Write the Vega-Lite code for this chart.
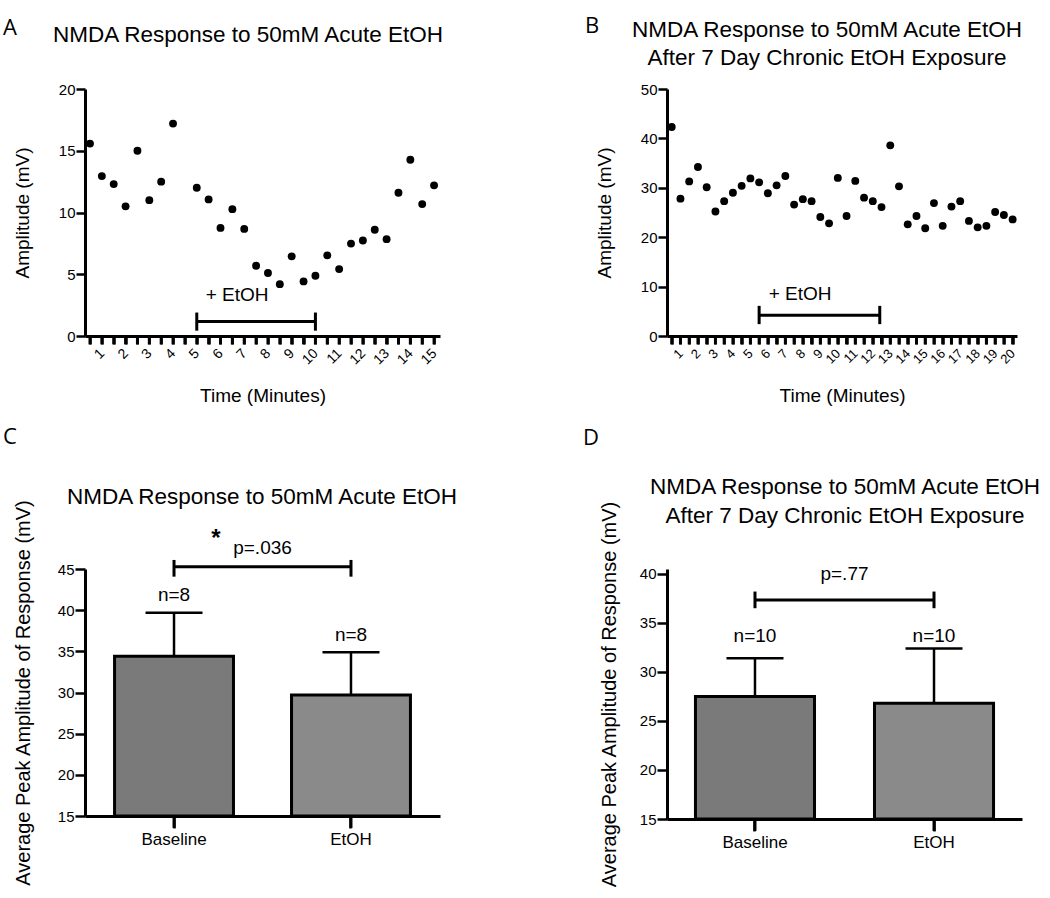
{
  "$schema": "https://vega.github.io/schema/vega-lite/v6.json",
  "autosize": {"type": "none"},
  "padding": {"left": 85, "top": 89, "right": 965, "bottom": 809},
  "background": "white",
  "datasets": {
    "a": [
      {"t": 0.5, "amp": 15.58}, {"t": 1.0, "amp": 12.95}, {"t": 1.5, "amp": 12.3}, {"t": 2.0, "amp": 10.5},
      {"t": 2.5, "amp": 15.0}, {"t": 3.0, "amp": 11.0}, {"t": 3.5, "amp": 12.5}, {"t": 4.0, "amp": 17.2},
      {"t": 5.0, "amp": 12.0}, {"t": 5.5, "amp": 11.06}, {"t": 6.0, "amp": 8.75}, {"t": 6.5, "amp": 10.27},
      {"t": 7.0, "amp": 8.67}, {"t": 7.5, "amp": 5.69}, {"t": 8.0, "amp": 5.1}, {"t": 8.5, "amp": 4.2},
      {"t": 9.0, "amp": 6.45}, {"t": 9.5, "amp": 4.42}, {"t": 10.0, "amp": 4.88}, {"t": 10.5, "amp": 6.53},
      {"t": 11.0, "amp": 5.42}, {"t": 11.5, "amp": 7.48}, {"t": 12.0, "amp": 7.73}, {"t": 12.5, "amp": 8.6},
      {"t": 13.0, "amp": 7.84}, {"t": 13.5, "amp": 11.6}, {"t": 14.0, "amp": 14.27}, {"t": 14.5, "amp": 10.68},
      {"t": 15.0, "amp": 12.2}
    ],
    "ticksA": [
      {"t": 0.5}, {"t": 1}, {"t": 1.5}, {"t": 2}, {"t": 2.5}, {"t": 3}, {"t": 3.5}, {"t": 4}, {"t": 4.5}, {"t": 5},
      {"t": 5.5}, {"t": 6}, {"t": 6.5}, {"t": 7}, {"t": 7.5}, {"t": 8}, {"t": 8.5}, {"t": 9}, {"t": 9.5}, {"t": 10},
      {"t": 10.5}, {"t": 11}, {"t": 11.5}, {"t": 12}, {"t": 12.5}, {"t": 13}, {"t": 13.5}, {"t": 14}, {"t": 14.5}, {"t": 15}
    ],
    "b": [
      {"t": 0.5, "amp": 42.3}, {"t": 1.0, "amp": 27.8}, {"t": 1.5, "amp": 31.3}, {"t": 2.0, "amp": 34.2},
      {"t": 2.5, "amp": 30.1}, {"t": 3.0, "amp": 25.2}, {"t": 3.5, "amp": 27.3}, {"t": 4.0, "amp": 29.0},
      {"t": 4.5, "amp": 30.4}, {"t": 5.0, "amp": 31.9}, {"t": 5.5, "amp": 31.1}, {"t": 6.0, "amp": 28.9},
      {"t": 6.5, "amp": 30.5}, {"t": 7.0, "amp": 32.4}, {"t": 7.5, "amp": 26.6}, {"t": 8.0, "amp": 27.7},
      {"t": 8.5, "amp": 27.3}, {"t": 9.0, "amp": 24.1}, {"t": 9.5, "amp": 22.8}, {"t": 10.0, "amp": 32.0},
      {"t": 10.5, "amp": 24.3}, {"t": 11.0, "amp": 31.4}, {"t": 11.5, "amp": 28.0}, {"t": 12.0, "amp": 27.3},
      {"t": 12.5, "amp": 26.1}, {"t": 13.0, "amp": 38.6}, {"t": 13.5, "amp": 30.3}, {"t": 14.0, "amp": 22.6},
      {"t": 14.5, "amp": 24.3}, {"t": 15.0, "amp": 21.8}, {"t": 15.5, "amp": 26.9}, {"t": 16.0, "amp": 22.3},
      {"t": 16.5, "amp": 26.2}, {"t": 17.0, "amp": 27.3}, {"t": 17.5, "amp": 23.3}, {"t": 18.0, "amp": 22.0},
      {"t": 18.5, "amp": 22.3}, {"t": 19.0, "amp": 25.1}, {"t": 19.5, "amp": 24.5}, {"t": 20.0, "amp": 23.6}
    ],
    "ticksB": [
      {"t": 0.5}, {"t": 1}, {"t": 1.5}, {"t": 2}, {"t": 2.5}, {"t": 3}, {"t": 3.5}, {"t": 4}, {"t": 4.5}, {"t": 5},
      {"t": 5.5}, {"t": 6}, {"t": 6.5}, {"t": 7}, {"t": 7.5}, {"t": 8}, {"t": 8.5}, {"t": 9}, {"t": 9.5}, {"t": 10},
      {"t": 10.5}, {"t": 11}, {"t": 11.5}, {"t": 12}, {"t": 12.5}, {"t": 13}, {"t": 13.5}, {"t": 14}, {"t": 14.5}, {"t": 15},
      {"t": 15.5}, {"t": 16}, {"t": 16.5}, {"t": 17}, {"t": 17.5}, {"t": 18}, {"t": 18.5}, {"t": 19}, {"t": 19.5}, {"t": 20}
    ],
    "c": [
      {"group": "Baseline", "mean": 34.4, "upper": 39.7, "nlabel": "n=8"},
      {"group": "EtOH", "mean": 29.7, "upper": 34.9, "nlabel": "n=8"}
    ],
    "d": [
      {"group": "Baseline", "mean": 27.5, "upper": 31.4, "nlabel": "n=10"},
      {"group": "EtOH", "mean": 26.8, "upper": 32.4, "nlabel": "n=10"}
    ]
  },
  "concat": [
    {
      "width": 355,
      "height": 247,
      "encoding": {
        "x": {"type": "quantitative", "scale": {"domain": [0.29, 15.25], "nice": false, "zero": false}},
        "y": {"type": "quantitative", "scale": {"domain": [0, 20], "nice": false, "zero": false}}
      },
      "layer": [
        {
          "data": {"name": "ticksA"},
          "mark": {"type": "rule", "strokeWidth": 3, "color": "black"},
          "encoding": {"x": {"field": "t", "type": "quantitative"}, "y": {"datum": 0}, "y2": {"datum": -0.68}}
        },
        {
          "data": {"name": "a"},
          "mark": {"type": "circle", "size": 62, "color": "black", "opacity": 1},
          "encoding": {
            "x": {"field": "t", "type": "quantitative",
              "axis": {"values": [0.5,1,1.5,2,2.5,3,3.5,4,4.5,5,5.5,6,6.5,7,7.5,8,8.5,9,9.5,10,10.5,11,11.5,12,12.5,13,13.5,14,14.5,15],
                "tickCount": 200,
                "labelExpr": "datum.value % 1 === 0 ? format(datum.value, 'd') : ''",
                "labelAngle": -45, "labelAlign": "right", "labelBaseline": "middle", "labelFontSize": 14,
                "tickSize": 8, "labelPadding": 7, "title": "Time (Minutes)", "titleFontSize": 19, "titlePadding": 20}},
            "y": {"field": "amp", "type": "quantitative",
              "axis": {"values": [0, 5, 10, 15, 20], "title": "Amplitude (mV)", "titleFontSize": 19,
                "labelFontSize": 15, "tickSize": 9, "labelPadding": 1, "titlePadding": 26}}
          }
        },
        {
          "data": {"values": [{"start": 5, "end": 10, "label": "+ EtOH"}]},
          "layer": [
            {"mark": {"type": "rule", "strokeWidth": 3, "color": "black"},
             "encoding": {"x": {"field": "start", "type": "quantitative"}, "x2": {"field": "end"}, "y": {"datum": 1.17}}},
            {"mark": {"type": "rule", "strokeWidth": 3, "color": "black"},
             "encoding": {"x": {"field": "start", "type": "quantitative"}, "y": {"datum": 0.43}, "y2": {"datum": 1.9}}},
            {"mark": {"type": "rule", "strokeWidth": 3, "color": "black"},
             "encoding": {"x": {"field": "end", "type": "quantitative"}, "y": {"datum": 0.43}, "y2": {"datum": 1.9}}},
            {"mark": {"type": "text", "fontSize": 19, "color": "black", "align": "center", "baseline": "middle"},
             "encoding": {"x": {"datum": 6.7}, "y": {"datum": 3.3}, "text": {"field": "label"}}}
          ]
        },
        {
          "data": {"values": [{"title": "NMDA Response to 50mM Acute EtOH", "panel": "A"}]},
          "layer": [
            {"mark": {"type": "text", "fontSize": 22.5, "color": "black", "align": "center", "baseline": "middle"},
             "encoding": {"x": {"datum": 7.16}, "y": {"datum": 24.37}, "text": {"field": "title"}}},
            {"mark": {"type": "text", "fontSize": 22, "font": "Open Sans", "color": "black", "align": "center", "baseline": "middle"},
             "encoding": {"x": {"datum": -2.87}, "y": {"datum": 24.94}, "text": {"field": "panel"}}}
          ]
        }
      ]
    },
    {
      "width": 350,
      "height": 247,
      "encoding": {
        "x": {"type": "quantitative", "scale": {"domain": [0.23, 20.25], "nice": false, "zero": false}},
        "y": {"type": "quantitative", "scale": {"domain": [0, 50], "nice": false, "zero": false}}
      },
      "layer": [
        {
          "data": {"name": "ticksB"},
          "mark": {"type": "rule", "strokeWidth": 3, "color": "black"},
          "encoding": {"x": {"field": "t", "type": "quantitative"}, "y": {"datum": 0}, "y2": {"datum": -1.7}}
        },
        {
          "data": {"name": "b"},
          "mark": {"type": "circle", "size": 62, "color": "black", "opacity": 1},
          "encoding": {
            "x": {"field": "t", "type": "quantitative",
              "axis": {"values": [0.5,1,1.5,2,2.5,3,3.5,4,4.5,5,5.5,6,6.5,7,7.5,8,8.5,9,9.5,10,10.5,11,11.5,12,12.5,13,13.5,14,14.5,15,15.5,16,16.5,17,17.5,18,18.5,19,19.5,20],
                "tickCount": 200,
                "labelExpr": "datum.value % 1 === 0 ? format(datum.value, 'd') : ''",
                "labelAngle": -45, "labelAlign": "right", "labelBaseline": "middle", "labelFontSize": 13,
                "tickSize": 8, "labelPadding": 7, "title": "Time (Minutes)", "titleFontSize": 19, "titlePadding": 20}},
            "y": {"field": "amp", "type": "quantitative",
              "axis": {"values": [0, 10, 20, 30, 40, 50], "title": "Amplitude (mV)", "titleFontSize": 19,
                "labelFontSize": 15, "tickSize": 9, "labelPadding": 1, "titlePadding": 26}}
          }
        },
        {
          "data": {"values": [{"start": 5.5, "end": 12.4, "label": "+ EtOH"}]},
          "layer": [
            {"mark": {"type": "rule", "strokeWidth": 3, "color": "black"},
             "encoding": {"x": {"field": "start", "type": "quantitative"}, "x2": {"field": "end"}, "y": {"datum": 4.19}}},
            {"mark": {"type": "rule", "strokeWidth": 3, "color": "black"},
             "encoding": {"x": {"field": "start", "type": "quantitative"}, "y": {"datum": 2.4}, "y2": {"datum": 6.1}}},
            {"mark": {"type": "rule", "strokeWidth": 3, "color": "black"},
             "encoding": {"x": {"field": "end", "type": "quantitative"}, "y": {"datum": 2.4}, "y2": {"datum": 6.1}}},
            {"mark": {"type": "text", "fontSize": 19, "color": "black", "align": "center", "baseline": "middle"},
             "encoding": {"x": {"datum": 7.84}, "y": {"datum": 8.45}, "text": {"field": "label"}}}
          ]
        },
        {
          "data": {"values": [{"panel": "B"}]},
          "layer": [
            {"mark": {"type": "text", "fontSize": 22.5, "color": "black", "align": "center", "baseline": "middle", "lineHeight": 28},
             "encoding": {"x": {"datum": 9.38}, "y": {"datum": 61.94}, "text": {"value": ["NMDA Response to 50mM Acute EtOH", "After 7 Day Chronic EtOH Exposure"]}}},
            {"mark": {"type": "text", "fontSize": 22, "font": "Open Sans", "color": "black", "align": "center", "baseline": "middle"},
             "encoding": {"x": {"datum": -4.06}, "y": {"datum": 62.75}, "text": {"field": "panel"}}}
          ]
        }
      ]
    },
    {
      "width": 355,
      "height": 247,
      "encoding": {
        "x": {"type": "nominal", "scale": {"domain": ["Baseline", "EtOH"], "paddingInner": 0.328, "paddingOuter": 0.167}},
        "y": {"type": "quantitative", "scale": {"domain": [15, 45], "nice": false, "zero": false}}
      },
      "layer": [
        {
          "data": {"name": "c"},
          "layer": [
            {"mark": {"type": "rule", "strokeWidth": 3, "color": "black"},
             "encoding": {"x": {"field": "group", "type": "nominal"}, "y": {"datum": 15}, "y2": {"datum": 13.55}}},
            {"mark": {"type": "rule", "strokeWidth": 2.5, "color": "black"},
             "encoding": {"x": {"field": "group", "type": "nominal"}, "y": {"field": "mean", "type": "quantitative"}, "y2": {"field": "upper"}}},
            {"mark": {"type": "tick", "size": 57, "thickness": 2.5, "color": "black", "opacity": 1},
             "encoding": {"x": {"field": "group", "type": "nominal"}, "y": {"field": "upper", "type": "quantitative"}}},
            {"mark": {"type": "bar", "stroke": "black", "strokeWidth": 3},
             "encoding": {
               "x": {"field": "group", "type": "nominal",
                 "axis": {"title": null, "labelAngle": 0, "labelAlign": "center", "labelBaseline": "top", "labelFontSize": 17,
                   "tickBand": "center", "tickSize": 12, "labelPadding": 3}},
               "y": {"field": "mean", "type": "quantitative",
                 "axis": {"values": [15, 20, 25, 30, 35, 40, 45], "title": "Average Peak Amplitude of Response (mV)",
                   "titleFontSize": 20, "labelFontSize": 15, "tickSize": 10, "labelPadding": 1, "titlePadding": 24}},
               "y2": {"datum": 15},
               "fill": {"field": "group", "type": "nominal", "scale": {"range": ["#7a7a7a", "#8a8a8a"]}, "legend": null}
             }},
            {"mark": {"type": "text", "fontSize": 19, "color": "black", "align": "center", "baseline": "middle", "dy": -17.5},
             "encoding": {"x": {"field": "group", "type": "nominal"}, "y": {"field": "upper", "type": "quantitative"}, "text": {"field": "nlabel"}}}
          ]
        },
        {
          "data": {"values": [{"panel": "C", "title": "NMDA Response to 50mM Acute EtOH", "p": "p=.036", "sig": "*"}]},
          "layer": [
            {"mark": {"type": "rule", "strokeWidth": 3, "color": "black"},
             "encoding": {"x": {"datum": "Baseline", "type": "nominal"}, "x2": {"datum": "EtOH"}, "y": {"datum": 45.28}}},
            {"mark": {"type": "rule", "strokeWidth": 3, "color": "black"},
             "encoding": {"x": {"datum": "Baseline", "type": "nominal"}, "y": {"datum": 44.07}, "y2": {"datum": 46.1}}},
            {"mark": {"type": "rule", "strokeWidth": 3, "color": "black"},
             "encoding": {"x": {"datum": "EtOH", "type": "nominal"}, "y": {"datum": 44.07}, "y2": {"datum": 46.1}}},
            {"mark": {"type": "text", "fontSize": 19, "color": "black", "align": "center", "baseline": "middle", "dx": 88.5},
             "encoding": {"x": {"datum": "Baseline", "type": "nominal"}, "y": {"datum": 47.55}, "text": {"field": "p"}}},
            {"mark": {"type": "text", "fontSize": 24, "fontWeight": "bold", "color": "black", "align": "center", "baseline": "middle", "dx": 42},
             "encoding": {"x": {"datum": "Baseline", "type": "nominal"}, "y": {"datum": 48.6}, "text": {"field": "sig"}}},
            {"mark": {"type": "text", "fontSize": 22.5, "color": "black", "align": "center", "baseline": "middle", "dx": 88},
             "encoding": {"x": {"datum": "Baseline", "type": "nominal"}, "y": {"datum": 53.75}, "text": {"field": "title"}}},
            {"mark": {"type": "text", "fontSize": 22, "font": "Open Sans", "color": "black", "align": "center", "baseline": "middle", "dx": -164},
             "encoding": {"x": {"datum": "Baseline", "type": "nominal"}, "y": {"datum": 61.0}, "text": {"field": "panel"}}}
          ]
        }
      ]
    },
    {
      "width": 355,
      "height": 250,
      "encoding": {
        "x": {"type": "nominal", "scale": {"domain": ["Baseline", "EtOH"], "paddingInner": 0.335, "paddingOuter": 0.159}},
        "y": {"type": "quantitative", "scale": {"domain": [15, 40.5], "nice": false, "zero": false}}
      },
      "layer": [
        {
          "data": {"name": "d"},
          "layer": [
            {"mark": {"type": "rule", "strokeWidth": 3, "color": "black"},
             "encoding": {"x": {"field": "group", "type": "nominal"}, "y": {"datum": 15}, "y2": {"datum": 13.78}}},
            {"mark": {"type": "rule", "strokeWidth": 2.5, "color": "black"},
             "encoding": {"x": {"field": "group", "type": "nominal"}, "y": {"field": "mean", "type": "quantitative"}, "y2": {"field": "upper"}}},
            {"mark": {"type": "tick", "size": 57, "thickness": 2.5, "color": "black", "opacity": 1},
             "encoding": {"x": {"field": "group", "type": "nominal"}, "y": {"field": "upper", "type": "quantitative"}}},
            {"mark": {"type": "bar", "stroke": "black", "strokeWidth": 3},
             "encoding": {
               "x": {"field": "group", "type": "nominal",
                 "axis": {"title": null, "labelAngle": 0, "labelAlign": "center", "labelBaseline": "top", "labelFontSize": 17,
                   "tickBand": "center", "tickSize": 12, "labelPadding": 3}},
               "y": {"field": "mean", "type": "quantitative",
                 "axis": {"values": [15, 20, 25, 30, 35, 40], "title": "Average Peak Amplitude of Response (mV)",
                   "titleFontSize": 20, "labelFontSize": 15, "tickSize": 10, "labelPadding": 1, "titlePadding": 20}},
               "y2": {"datum": 15},
               "fill": {"field": "group", "type": "nominal", "scale": {"range": ["#7a7a7a", "#8a8a8a"]}, "legend": null}
             }},
            {"mark": {"type": "text", "fontSize": 19, "color": "black", "align": "center", "baseline": "middle"},
             "encoding": {"x": {"field": "group", "type": "nominal"}, "y": {"datum": 33.7}, "text": {"field": "nlabel"}}}
          ]
        },
        {
          "data": {"values": [{"panel": "D", "p": "p=.77"}]},
          "layer": [
            {"mark": {"type": "rule", "strokeWidth": 3, "color": "black"},
             "encoding": {"x": {"datum": "Baseline", "type": "nominal"}, "x2": {"datum": "EtOH"}, "y": {"datum": 37.35}}},
            {"mark": {"type": "rule", "strokeWidth": 3, "color": "black"},
             "encoding": {"x": {"datum": "Baseline", "type": "nominal"}, "y": {"datum": 36.5}, "y2": {"datum": 38.2}}},
            {"mark": {"type": "rule", "strokeWidth": 3, "color": "black"},
             "encoding": {"x": {"datum": "EtOH", "type": "nominal"}, "y": {"datum": 36.5}, "y2": {"datum": 38.2}}},
            {"mark": {"type": "text", "fontSize": 19, "color": "black", "align": "center", "baseline": "middle", "dx": 89.5},
             "encoding": {"x": {"datum": "Baseline", "type": "nominal"}, "y": {"datum": 40.0}, "text": {"field": "p"}}},
            {"mark": {"type": "text", "fontSize": 22.5, "color": "black", "align": "center", "baseline": "middle", "dx": 90, "lineHeight": 29},
             "encoding": {"x": {"datum": "Baseline", "type": "nominal"}, "y": {"datum": 48.83}, "text": {"value": ["NMDA Response to 50mM Acute EtOH", "After 7 Day Chronic EtOH Exposure"]}}},
            {"mark": {"type": "text", "fontSize": 22, "font": "Open Sans", "color": "black", "align": "center", "baseline": "middle", "dx": -164},
             "encoding": {"x": {"datum": "Baseline", "type": "nominal"}, "y": {"datum": 53.9}, "text": {"field": "panel"}}}
          ]
        }
      ]
    }
  ],
  "columns": 2,
  "bounds": "flush",
  "spacing": {"row": 233, "column": 227},
  "resolve": {"scale": {"x": "independent", "y": "independent"}},
  "config": {
    "font": "Liberation Sans",
    "text": {"font": "Liberation Sans"},
    "view": {"stroke": null},
    "axis": {
      "domainColor": "black", "domainWidth": 3, "tickColor": "black", "tickWidth": 2.5, "ticks": true,
      "labelColor": "black", "titleColor": "black", "grid": false,
      "labelFont": "Liberation Sans", "titleFont": "Liberation Sans", "titleFontWeight": "normal",
      "labelFlush": false, "labelOverlap": false
    }
  }
}
